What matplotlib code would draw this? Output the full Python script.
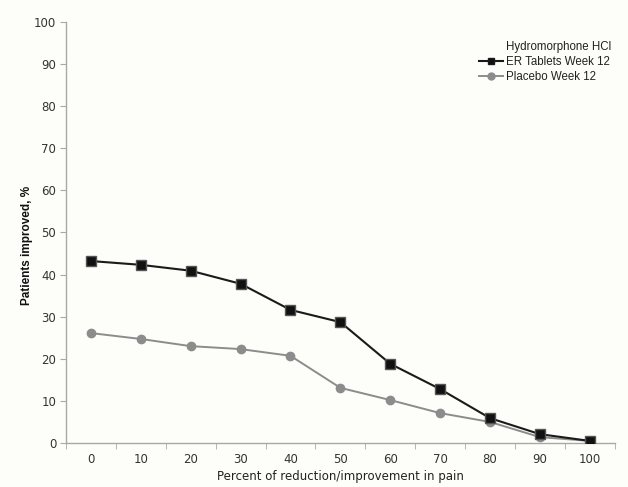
import matplotlib
matplotlib.use("Agg")
import matplotlib.pyplot as plt
from matplotlib.lines import Line2D
from matplotlib.ticker import FixedLocator

categories = [0, 10, 20, 30, 40, 50, 60, 70, 80, 90, 100]
hydromorphone = [43.2, 42.3, 40.9, 37.8, 31.6, 28.7, 18.8, 12.8, 5.9, 2.1, 0.5]
placebo = [26.1, 24.7, 23.0, 22.3, 20.7, 13.1, 10.2, 7.1, 5.0, 1.4, 0.5]
y_ticks = [0, 10, 20, 30, 40, 50, 60, 70, 80, 90, 100]

bg = "#fdfdf9"
axis_color = "#a8a8a8"
tick_font = ["Liberation Sans Narrow", "DejaVu Sans"]

fig = plt.figure(figsize=(6.28, 4.87), dpi=100, facecolor=bg)
ax = fig.add_axes([0.105, 0.0903, 0.874, 0.865], facecolor=bg)

x = list(range(len(categories)))
ax.plot(x, placebo, color="#8c8c8c", lw=1.4, marker="o", ms=6,
        markerfacecolor="#8c8c8c", markeredgecolor="#8c8c8c", zorder=3)
ax.plot(x, hydromorphone, color="#1a1a1a", lw=1.5, marker="s", ms=7,
        markerfacecolor="#111111", markeredgecolor="#555555", zorder=4)

ax.set_xlim(-0.5, len(categories) - 0.5)
ax.set_ylim(0, 100)

ax.set_xticks(x)
ax.set_xticklabels([str(c) for c in categories], family=tick_font, fontsize=8.5, color="#333333")
ax.xaxis.set_minor_locator(FixedLocator([i - 0.5 for i in range(len(categories) + 1)]))
ax.tick_params(axis="x", which="major", length=0, pad=7)
ax.tick_params(axis="x", which="minor", length=4, color=axis_color, direction="out")

ax.set_yticks(y_ticks)
ax.set_yticklabels([str(t) for t in y_ticks], family=tick_font, fontsize=8.5, color="#333333")
ax.tick_params(axis="y", length=4, color=axis_color, direction="out", pad=3)

for s in ["top", "right"]:
    ax.spines[s].set_visible(False)
for s in ["left", "bottom"]:
    ax.spines[s].set_color(axis_color)
    ax.spines[s].set_linewidth(1.0)

ax.set_xlabel("Percent of reduction/improvement in pain", family=tick_font,
              fontsize=8.5, color="#222222")
ax.xaxis.set_label_coords(0.5, -0.064)
ax.set_ylabel("Patients improved, %", family=["Liberation Sans", "DejaVu Sans"],
              fontsize=8.5, color="#111111", fontweight="semibold")
ax.yaxis.set_label_coords(-0.06, 0.47)

handles = [
    Line2D([], [], color="none"),
    Line2D([], [], color="#1a1a1a", lw=1.5, marker="s", ms=5, markerfacecolor="#111111"),
    Line2D([], [], color="#8c8c8c", lw=1.4, marker="o", ms=5, markerfacecolor="#8c8c8c"),
]
labels = ["Hydromorphone HCl", "ER Tablets Week 12", "Placebo Week 12"]
leg = ax.legend(handles, labels, loc="upper left", bbox_to_anchor=(0.745, 0.965),
                frameon=False, prop={"family": "Liberation Sans", "size": 8.3},
                handlelength=2.0, handletextpad=0.3, labelspacing=0.27, borderaxespad=0)
for t in leg.get_texts():
    t.set_color("#222222")

fig.savefig("out.png", dpi=100, facecolor=bg)
